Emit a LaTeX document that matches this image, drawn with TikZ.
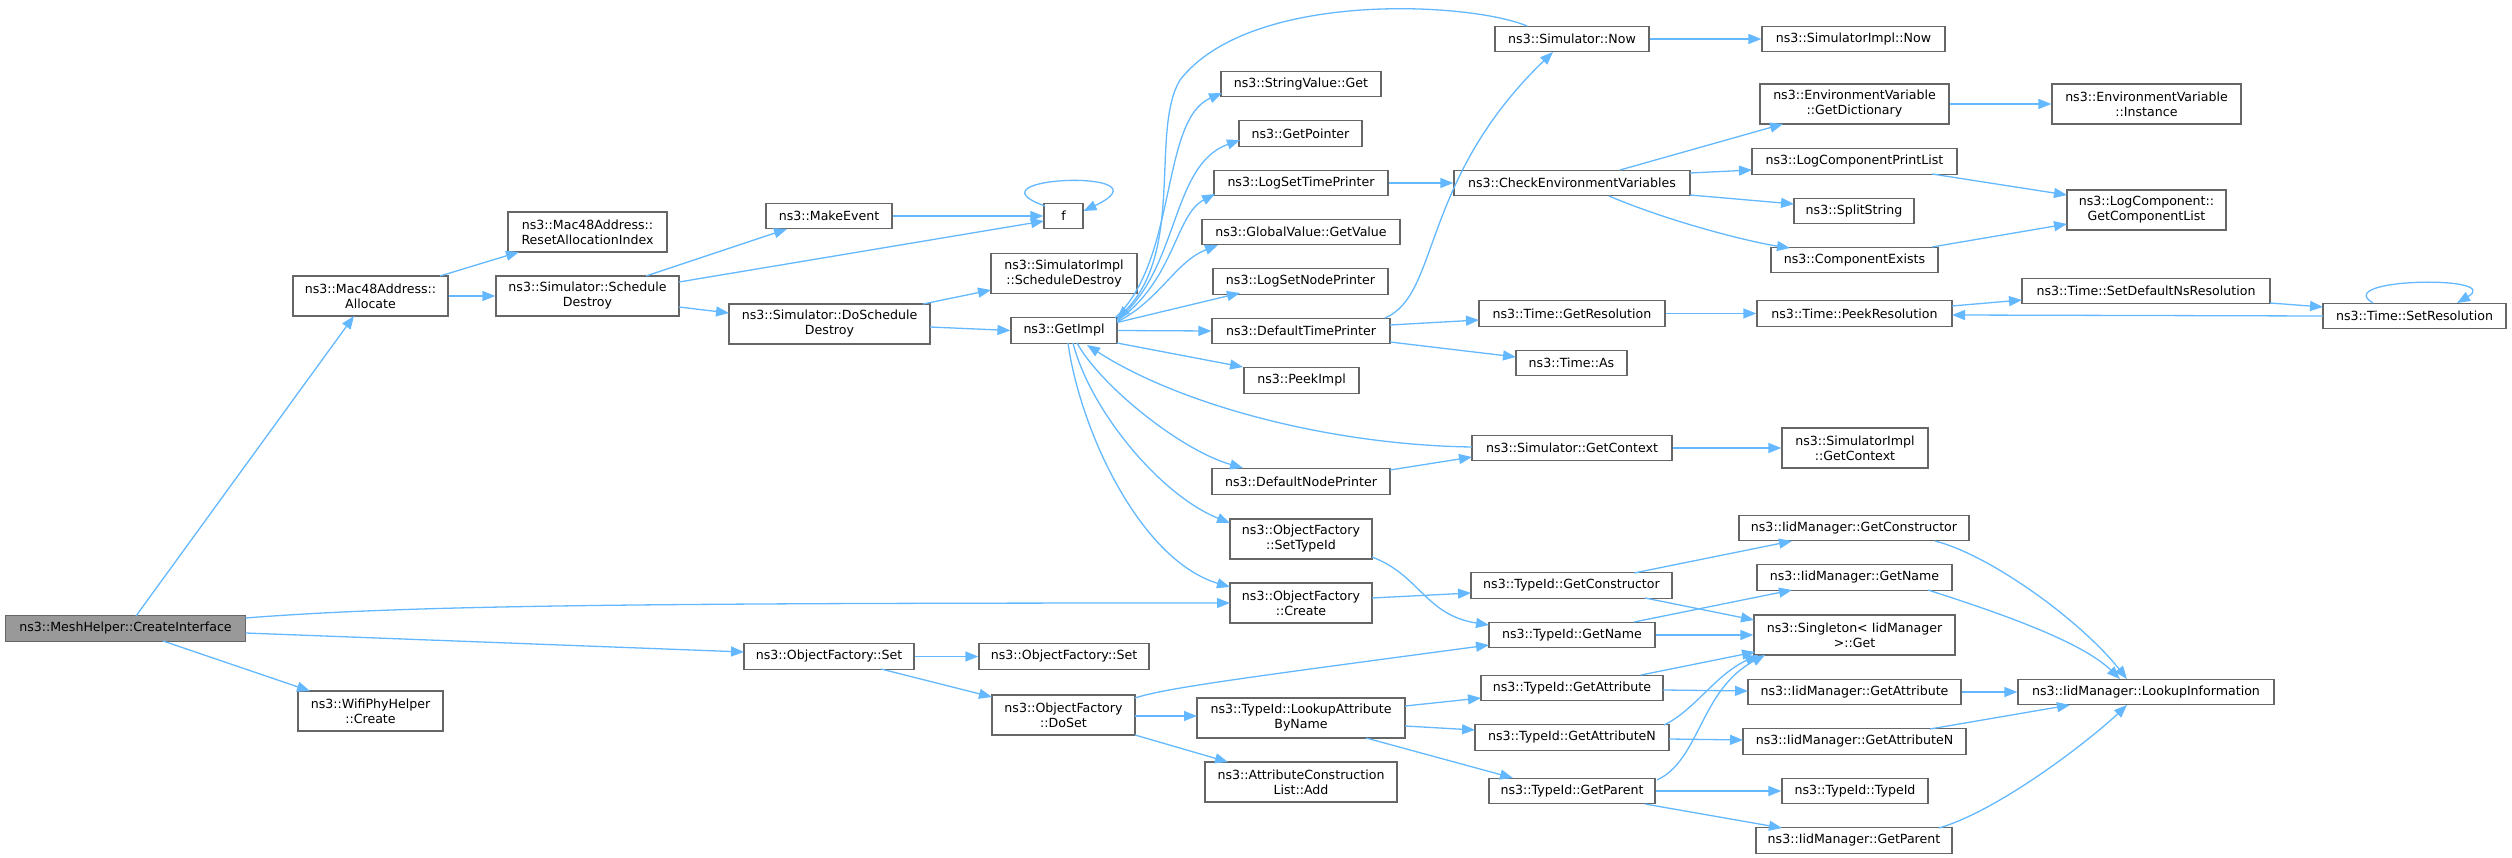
\documentclass[tikz,border=0pt]{standalone}
\usepackage{fontspec}
\setmainfont{DejaVu Sans}
\usetikzlibrary{arrows.meta}
\definecolor{edgec}{HTML}{63B8FF}
\definecolor{bordc}{HTML}{666666}
\definecolor{rootc}{HTML}{999999}
\tikzset{
  fn/.style={draw=bordc, fill=white, line width=1.2pt, inner sep=0pt, align=center,
    font=\fontsize{12.6}{15}\selectfont, minimum height=25.5pt},
  fn2/.style={fn, minimum height=40pt},
  root/.style={fn, fill=rootc},
  call/.style={draw=edgec, line width=1.3pt, -{Triangle[length=13pt,width=10pt]}},
}
\begin{document}
\begin{tikzpicture}[x=1pt,y=-1pt]
\useasboundingbox (0,0) rectangle (2512,858);
% column 1
\node[root, minimum width=240] (ci) at (125.5,628.5) {ns3::MeshHelper::CreateInterface};
% column 2
\node[fn2, minimum width=155] (alloc) at (370.5,296) {ns3::Mac48Address::\\Allocate};
\node[fn2, minimum width=145] (wifi) at (370.5,711) {ns3::WifiPhyHelper\\::Create};
% column 3
\node[fn2, minimum width=159] (reset) at (587.5,232) {ns3::Mac48Address::\\ResetAllocationIndex};
\node[fn2, minimum width=183] (sched) at (587.5,296) {ns3::Simulator::Schedule\\Destroy};
% column 4
\node[fn, minimum width=126] (mkev) at (829,216) {ns3::MakeEvent};
\node[fn2, minimum width=201] (doSD) at (829.5,324) {ns3::Simulator::DoSchedule\\Destroy};
\node[fn, minimum width=170] (ofSet1) at (829,656.5) {ns3::ObjectFactory::Set};
% column 5
\node[fn, minimum width=39] (f) at (1063.5,216) {f};
\node[fn2, minimum width=146] (siSD) at (1064,273.5) {ns3::SimulatorImpl\\::ScheduleDestroy};
\node[fn, minimum width=106] (getimpl) at (1064,330.5) {ns3::GetImpl};
\node[fn, minimum width=170] (ofSet2) at (1064,656.5) {ns3::ObjectFactory::Set};
\node[fn2, minimum width=143] (doSet) at (1063.5,715) {ns3::ObjectFactory\\::DoSet};
% column 6
\node[fn, minimum width=160] (strget) at (1301,84) {ns3::StringValue::Get};
\node[fn, minimum width=123] (getptr) at (1300.5,133.5) {ns3::GetPointer};
\node[fn, minimum width=174] (lstp) at (1301,183) {ns3::LogSetTimePrinter};
\node[fn, minimum width=198] (gvget) at (1301,232) {ns3::GlobalValue::GetValue};
\node[fn, minimum width=175] (lsnp) at (1300.5,281.5) {ns3::LogSetNodePrinter};
\node[fn, minimum width=178] (dtp) at (1301,331) {ns3::DefaultTimePrinter};
\node[fn, minimum width=115] (peek) at (1301.5,380.5) {ns3::PeekImpl};
\node[fn, minimum width=178] (dnp) at (1301,481.5) {ns3::DefaultNodePrinter};
\node[fn2, minimum width=142] (setTid) at (1301,539) {ns3::ObjectFactory\\::SetTypeId};
\node[fn2, minimum width=142] (ofCreate) at (1301,603) {ns3::ObjectFactory\\::Create};
\node[fn2, minimum width=208] (lookupAttr) at (1301,718) {ns3::TypeId::LookupAttribute\\ByName};
\node[fn2, minimum width=192] (acAdd) at (1301,782) {ns3::AttributeConstruction\\List::Add};
% column 7
\node[fn, minimum width=154] (simNow) at (1572,39) {ns3::Simulator::Now};
\node[fn, minimum width=236] (cev) at (1572,183) {ns3::CheckEnvironmentVariables};
\node[fn, minimum width=186] (getRes) at (1572,313.5) {ns3::Time::GetResolution};
\node[fn, minimum width=111] (timeAs) at (1571.5,363) {ns3::Time::As};
\node[fn, minimum width=200] (getCtx) at (1572,448) {ns3::Simulator::GetContext};
\node[fn, minimum width=201] (tidCtor) at (1571.5,585.5) {ns3::TypeId::GetConstructor};
\node[fn, minimum width=166] (tidName) at (1572,635) {ns3::TypeId::GetName};
\node[fn, minimum width=182] (tidAttr) at (1572,688) {ns3::TypeId::GetAttribute};
\node[fn, minimum width=194] (tidAttrN) at (1572,737.5) {ns3::TypeId::GetAttributeN};
\node[fn, minimum width=166] (tidParent) at (1572,791) {ns3::TypeId::GetParent};
% column 8
\node[fn, minimum width=183] (siNow) at (1853.5,39) {ns3::SimulatorImpl::Now};
\node[fn2, minimum width=189] (envDict) at (1854.5,104) {ns3::EnvironmentVariable\\::GetDictionary};
\node[fn, minimum width=205] (lcpl) at (1854.5,161.5) {ns3::LogComponentPrintList};
\node[fn, minimum width=120] (split) at (1854,211) {ns3::SplitString};
\node[fn, minimum width=167] (compEx) at (1854.5,260) {ns3::ComponentExists};
\node[fn, minimum width=195] (peekRes) at (1854.5,313.5) {ns3::Time::PeekResolution};
\node[fn2, minimum width=146] (siCtx) at (1855,448) {ns3::SimulatorImpl\\::GetContext};
\node[fn, minimum width=230] (iidCtor) at (1854,528) {ns3::IidManager::GetConstructor};
\node[fn, minimum width=195] (iidName) at (1854.5,577.5) {ns3::IidManager::GetName};
\node[fn2, minimum width=201] (singleton) at (1854.5,635) {ns3::Singleton< IidManager\\ >::Get};
\node[fn, minimum width=213] (iidAttr) at (1854.5,692) {ns3::IidManager::GetAttribute};
\node[fn, minimum width=223] (iidAttrN) at (1854.5,741.5) {ns3::IidManager::GetAttributeN};
\node[fn, minimum width=146] (tidTid) at (1855,791) {ns3::TypeId::TypeId};
\node[fn, minimum width=196] (iidParent) at (1854,840.5) {ns3::IidManager::GetParent};
% column 9
\node[fn2, minimum width=189] (envInst) at (2146.5,104) {ns3::EnvironmentVariable\\::Instance};
\node[fn2, minimum width=159] (gcl) at (2146.5,210) {ns3::LogComponent::\\GetComponentList};
\node[fn, minimum width=248] (setDef) at (2146,291) {ns3::Time::SetDefaultNsResolution};
\node[fn, minimum width=256] (lookupInfo) at (2146,692) {ns3::IidManager::LookupInformation};
% column 10
\node[fn, minimum width=183] (setRes) at (2414.5,316) {ns3::Time::SetResolution};

% ---- edges ----
\draw[call] ([shift={(10.5,-12.5)}]ci.center) -- ([shift={(-16.5,20)}]alloc.center);
\draw[call] ([shift={(120,-10.5)}]ci.center) .. controls (400,606) and (600,603) .. ([shift={(-71,0)}]ofCreate.center);
\draw[call] ([shift={(120,4.5)}]ci.center) -- ([shift={(-85,-4.5)}]ofSet1.center);
\draw[call] ([shift={(37.5,12.5)}]ci.center) -- ([shift={(-60.5,-20)}]wifi.center);
\draw[call] ([shift={(69.5,-20)}]alloc.center) -- ([shift={(-68.5,20)}]reset.center);
\draw[call] (alloc.east) -- (sched.west);
\draw[call] ([shift={(58.5,-20)}]sched.center) -- ([shift={(-42,13)}]mkev.center);
\draw[call] ([shift={(91.5,-14)}]sched.center) -- ([shift={(-19.5,5)}]f.center);
\draw[call] ([shift={(91.5,11)}]sched.center) -- ([shift={(-100.5,-11)}]doSD.center);
\draw[call] (mkev.east) -- (f.west);
\draw[call] ([shift={(-18.5,-10)}]f.center) .. controls (960,176) and (1175,168) .. ([shift={(20,-5)}]f.center);
\draw[call] ([shift={(93.5,-20)}]doSD.center) -- ([shift={(-73,16.5)}]siSD.center);
\draw[call] ([shift={(100.5,3)}]doSD.center) -- (getimpl.west);
% GetImpl fan
\draw[call] ([shift={(51,-12.5)}]getimpl.center) .. controls (1178,260) and (1160,120) .. ([shift={(-79,9)}]strget.center);
\draw[call] ([shift={(53,-10.5)}]getimpl.center) .. controls (1180,270) and (1170,165) .. ([shift={(-60.5,6.5)}]getptr.center);
\draw[call] ([shift={(53,-9.5)}]getimpl.center) .. controls (1175,280) and (1175,215) .. ([shift={(-86,11)}]lstp.center);
\draw[call] ([shift={(53,-8.5)}]getimpl.center) .. controls (1160,300) and (1175,262) .. ([shift={(-83,13)}]gvget.center);
\draw[call] ([shift={(53,-8)}]getimpl.center) -- ([shift={(-60.5,11.5)}]lsnp.center);
\draw[call] (getimpl.east) -- (dtp.west);
\draw[call] ([shift={(53,12.5)}]getimpl.center) -- ([shift={(-58.5,-13.5)}]peek.center);
\draw[call] ([shift={(-45,-13)}]simNow.center) .. controls (1470,2) and (1250,-10) .. (1180,80) .. controls (1150,130) and (1185,250) .. ([shift={(53,-11.5)}]getimpl.center);
\draw[call] ([shift={(-100,-1)}]getCtx.center) .. controls (1330,445) and (1180,405) .. ([shift={(23,14.5)}]getimpl.center);
\draw[call] ([shift={(13,12.5)}]getimpl.center) .. controls (1100,385) and (1180,450) .. ([shift={(-58,-13.5)}]dnp.center);
\draw[call] ([shift={(9,12.5)}]getimpl.center) .. controls (1090,410) and (1160,495) .. ([shift={(-71,-16)}]setTid.center);
\draw[call] ([shift={(4,12.5)}]getimpl.center) .. controls (1080,430) and (1140,560) .. ([shift={(-71,-16)}]ofCreate.center);
% DefaultTimePrinter etc.
\draw[call] ([shift={(84,-13)}]dtp.center) .. controls (1440,295) and (1420,180) .. ([shift={(-19,13)}]simNow.center);
\draw[call] ([shift={(89,-6)}]dtp.center) -- ([shift={(-93,6.5)}]getRes.center);
\draw[call] ([shift={(89,11)}]dtp.center) -- ([shift={(-55.5,-6)}]timeAs.center);
\draw[call] (lstp.east) -- (cev.west);
\draw[call] ([shift={(89,-11.5)}]dnp.center) -- ([shift={(-100,9)}]getCtx.center);
\draw[call] (getCtx.east) -- (siCtx.west);
\draw[call] (simNow.east) -- (siNow.west);
\draw[call] ([shift={(48,-13)}]cev.center) -- ([shift={(-71.5,20)}]envDict.center);
\draw[call] ([shift={(118,-10)}]cev.center) -- ([shift={(-102.5,8.5)}]lcpl.center);
\draw[call] ([shift={(118,12)}]cev.center) -- ([shift={(-60,-7)}]split.center);
\draw[call] ([shift={(37,13)}]cev.center) .. controls (1670,222) and (1750,242) .. ([shift={(-64.5,-12)}]compEx.center);
\draw[call] (envDict.east) -- (envInst.west);
\draw[call] ([shift={(77.5,12.5)}]lcpl.center) -- ([shift={(-79.5,-15)}]gcl.center);
\draw[call] ([shift={(77.5,-13)}]compEx.center) -- ([shift={(-79.5,14)}]gcl.center);
\draw[call] (getRes.east) -- (peekRes.west);
\draw[call] ([shift={(97.5,-7.5)}]peekRes.center) -- ([shift={(-124,9)}]setDef.center);
\draw[call] ([shift={(124,12)}]setDef.center) -- ([shift={(-91.5,-9)}]setRes.center);
\draw[call] ([shift={(-91.5,0)}]setRes.center) -- ([shift={(97.5,1.5)}]peekRes.center);
\draw[call] ([shift={(-41.5,-13)}]setRes.center) .. controls (2330,278) and (2505,275) .. ([shift={(42.5,-13)}]setRes.center);
% ObjectFactory / TypeId
\draw[call] ([shift={(71,18)}]setTid.center) .. controls (1420,575) and (1425,615) .. ([shift={(-83,-10)}]tidName.center);
\draw[call] ([shift={(71,-5)}]ofCreate.center) -- ([shift={(-100.5,7.5)}]tidCtor.center);
\draw[call] ([shift={(62.5,-12.5)}]tidCtor.center) -- ([shift={(-62,13)}]iidCtor.center);
\draw[call] ([shift={(73.5,12.5)}]tidCtor.center) -- ([shift={(-100.5,-15)}]singleton.center);
\draw[call] ([shift={(62,-13)}]tidName.center) -- ([shift={(-62.5,12.5)}]iidName.center);
\draw[call] (tidName.east) -- (singleton.west);
\draw[call] ([shift={(69,-13)}]tidAttr.center) -- ([shift={(-99.5,17)}]singleton.center);
\draw[call] ([shift={(91,2)}]tidAttr.center) -- ([shift={(-106.5,-1)}]iidAttr.center);
\draw[call] ([shift={(92,-12.5)}]tidAttrN.center) .. controls (1695,710) and (1715,675) .. ([shift={(-96.5,20)}]singleton.center);
\draw[call] ([shift={(97,1.5)}]tidAttrN.center) -- ([shift={(-111.5,-1.5)}]iidAttrN.center);
\draw[call] ([shift={(85,-11)}]tidParent.center) .. controls (1700,760) and (1700,690) .. ([shift={(-89.5,20)}]singleton.center);
\draw[call] (tidParent.east) -- (tidTid.west);
\draw[call] ([shift={(73,13)}]tidParent.center) -- ([shift={(-72,-12.5)}]iidParent.center);
\draw[call] ([shift={(81,13)}]iidCtor.center) .. controls (1990,555) and (2080,620) .. ([shift={(-19,-13)}]lookupInfo.center);
\draw[call] ([shift={(73.5,12.5)}]iidName.center) .. controls (1990,610) and (2080,640) .. ([shift={(-26,-13)}]lookupInfo.center);
\draw[call] (iidAttr.east) -- (lookupInfo.west);
\draw[call] ([shift={(75.5,-12.5)}]iidAttrN.center) -- ([shift={(-76,13)}]lookupInfo.center);
\draw[call] ([shift={(85,-12.5)}]iidParent.center) .. controls (2000,810) and (2090,740) .. ([shift={(-19,13)}]lookupInfo.center);
\draw[call] (ofSet1.east) -- (ofSet2.west);
\draw[call] ([shift={(52,12.5)}]ofSet1.center) -- ([shift={(-71.5,-18)}]doSet.center);
\draw[call] ([shift={(71.5,-17)}]doSet.center) .. controls (1165,688) and (1250,677) .. ([shift={(-83,10)}]tidName.center);
\draw[call] ([shift={(71.5,1)}]doSet.center) -- ([shift={(-104,-2)}]lookupAttr.center);
\draw[call] ([shift={(71.5,20)}]doSet.center) -- ([shift={(-73,-20)}]acAdd.center);
\draw[call] ([shift={(104,-12)}]lookupAttr.center) -- ([shift={(-91,10)}]tidAttr.center);
\draw[call] ([shift={(104,8)}]lookupAttr.center) -- ([shift={(-97,-7.5)}]tidAttrN.center);
\draw[call] ([shift={(65,20)}]lookupAttr.center) -- ([shift={(-59,-13)}]tidParent.center);
\end{tikzpicture}
\end{document}
